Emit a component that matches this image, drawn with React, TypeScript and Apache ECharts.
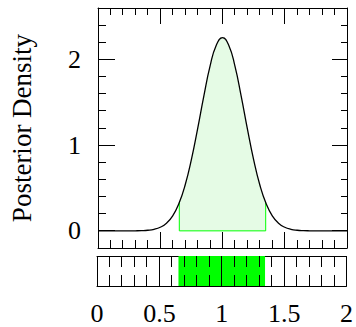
import React, { useEffect, useRef } from "react";
import * as echarts from "echarts";

// Posterior density curve
const xValues = [0, 0.25, 0.3, 0.35, 0.4, 0.45, 0.5, 0.55, 0.6, 0.65, 0.7, 0.75, 0.8, 0.85, 0.9, 0.95, 1.0, 1.05, 1.1, 1.15, 1.2, 1.25, 1.3, 1.35, 1.4, 1.45, 1.5, 1.55, 1.6, 1.65, 1.7, 1.75, 2.0];
const densityValues = [0, 0.0003, 0.0009, 0.0027, 0.0072, 0.018, 0.042, 0.089, 0.175, 0.319, 0.535, 0.831, 1.19, 1.573, 1.921, 2.166, 2.254, 2.166, 1.921, 1.573, 1.19, 0.831, 0.535, 0.319, 0.175, 0.089, 0.042, 0.018, 0.0072, 0.0027, 0.0009, 0.0003, 0];

// Credible interval
const intervalLo = 0.653;
const intervalHi = 1.347;
const intervalLoDensity = 0.33;
const intervalHiDensity = 0.33;

// Axis ranges and ticks
const xMin = 0;
const xMax = 2;
const xInterval = 0.5;
const yMin = -0.2;
const yMax = 2.6;
const xMajorTicks = [0, 0.5, 1, 1.5, 2];
const xMinorTicks = [0.1, 0.2, 0.3, 0.4, 0.6, 0.7, 0.8, 0.9, 1.1, 1.2, 1.3, 1.4, 1.6, 1.7, 1.8, 1.9];
const yMajorTicks = [0, 1, 2];
const yMinorTicks = [-0.2, 0.2, 0.4, 0.6, 0.8, 1.2, 1.4, 1.6, 1.8, 2.2, 2.4, 2.6];
const yLabel = "Posterior Density";

const FONT = "Liberation Serif";
const FS = 26;
const BLACK = "#000";
const FILL = "#e5fbe5";
const GREEN = "#00ff00";

// tick kinds: 0 x-minor, 1 x-major, 2 y-minor, 3 y-major
const X_MINOR = 0;
const X_MAJOR = 1;
const Y_MINOR = 2;
const Y_MAJOR = 3;

function vLine(x: number, y1: number, y2: number) {
  const x0 = Math.round(x - 0.5);
  return {
    type: "rect",
    shape: { x: x0, y: Math.min(y1, y2), width: 1, height: Math.abs(y2 - y1) },
    style: { fill: BLACK },
  };
}

function hLine(y: number, x1: number, x2: number) {
  const y0 = Math.round(y - 0.5);
  return {
    type: "rect",
    shape: { x: Math.min(x1, x2), y: y0, width: Math.abs(x2 - x1), height: 1 },
    style: { fill: BLACK },
  };
}

// lens: x [bottomMajor, bottomMinor, topMajor, topMinor], y [leftMajor, leftMinor, rightMajor, rightMinor]
function tickRenderer(yLo: number, yHi: number, xl: number[], yl: number[]) {
  return (params: any, api: any) => {
    const kind = api.value(2);
    if (kind === X_MINOR || kind === X_MAJOR) {
      const v = api.value(0);
      const major = kind === X_MAJOR;
      const pb = api.coord([v, yLo]);
      const pt = api.coord([v, yHi]);
      const lb = major ? xl[0] : xl[1];
      const lt = major ? xl[2] : xl[3];
      return {
        type: "group",
        children: [vLine(pb[0], pb[1], pb[1] - lb), vLine(pt[0], pt[1], pt[1] + lt)],
      };
    }
    const v = api.value(1);
    const major = kind === Y_MAJOR;
    const pl = api.coord([xMin, v]);
    const pr = api.coord([xMax, v]);
    const ll = major ? yl[0] : yl[1];
    const lr = major ? yl[2] : yl[3];
    return {
      type: "group",
      children: [hLine(pl[1], pl[0], pl[0] + ll), hLine(pr[1], pr[0], pr[0] - lr)],
    };
  };
}

function buildOption(): any {
  const curve = xValues.map((x, i) => [x, densityValues[i]]);
  const band: number[][] = [[intervalLo, intervalLoDensity]];
  xValues.forEach((x, i) => {
    if (x > intervalLo && x < intervalHi) band.push([x, densityValues[i]]);
  });
  band.push([intervalHi, intervalHiDensity]);
  const bandEdge = [
    [intervalLo, intervalLoDensity],
    [intervalLo, 0],
    [intervalHi, 0],
    [intervalHi, intervalHiDensity],
  ];
  const mainTicks = [
    ...xMajorTicks.map((v) => [v, 0, X_MAJOR]),
    ...xMinorTicks.map((v) => [v, 0, X_MINOR]),
    ...yMajorTicks.map((v) => [1, v, Y_MAJOR]),
    ...yMinorTicks.map((v) => [1, v, Y_MINOR]),
  ];
  const stripTicks = [
    ...xMajorTicks.map((v) => [v, 0.5, X_MAJOR]),
    ...xMinorTicks.map((v) => [v, 0.5, X_MINOR]),
  ];

  const lineStyle = { color: BLACK, width: 1 };
  const xAxis = (gridIndex: number, position: string, labels: boolean) => ({
    type: "value",
    gridIndex,
    position,
    min: xMin,
    max: xMax,
    interval: xInterval,
    axisLine: { show: true, onZero: false, lineStyle: { ...lineStyle } },
    axisTick: { show: false },
    splitLine: { show: false },
    axisLabel: labels
      ? { show: true, margin: 14, color: BLACK, fontFamily: FONT, fontSize: FS }
      : { show: false },
  });

  return {
    animation: false,
    grid: [
      { left: 97, top: 8, width: 250, height: 240 },
      { left: 97, top: 256, width: 250, height: 30 },
    ],
    xAxis: [
      xAxis(0, "bottom", false),
      xAxis(0, "top", false),
      xAxis(1, "bottom", true),
      xAxis(1, "top", false),
    ],
    yAxis: [
      {
        type: "value",
        gridIndex: 0,
        position: "left",
        min: yMin,
        max: yMax,
        axisLine: { show: true, onZero: false, lineStyle: { ...lineStyle } },
        axisTick: { show: false },
        splitLine: { show: false },
        axisLabel: {
          show: true,
          margin: 17,
          color: BLACK,
          fontFamily: FONT,
          fontSize: FS,
          customValues: yMajorTicks,
        },
        name: yLabel,
        nameLocation: "middle",
        nameGap: 63,
        nameTextStyle: { color: BLACK, fontFamily: FONT, fontSize: 27 },
      },
      {
        type: "value",
        gridIndex: 0,
        position: "right",
        min: yMin,
        max: yMax,
        axisLine: { show: true, onZero: false, lineStyle: { ...lineStyle } },
        axisTick: { show: false },
        splitLine: { show: false },
        axisLabel: { show: false },
      },
      { type: "value", gridIndex: 1, min: 0, max: 1, show: false, splitLine: { show: false } },
    ],
    series: [
      {
        type: "line",
        xAxisIndex: 0,
        yAxisIndex: 0,
        data: band,
        smooth: true,
        symbol: "none",
        lineStyle: { width: 0, color: FILL },
        areaStyle: { color: FILL, opacity: 1 },
        z: 2,
      },
      {
        type: "line",
        xAxisIndex: 0,
        yAxisIndex: 0,
        data: bandEdge,
        symbol: "none",
        lineStyle: { width: 1, color: GREEN },
        z: 3,
      },
      {
        type: "line",
        xAxisIndex: 0,
        yAxisIndex: 0,
        data: curve,
        smooth: true,
        symbol: "none",
        lineStyle: { width: 1.3, color: BLACK },
        z: 4,
      },
      {
        type: "custom",
        xAxisIndex: 0,
        yAxisIndex: 0,
        clip: false,
        data: mainTicks,
        encode: { x: 0, y: 1 },
        renderItem: tickRenderer(yMin, yMax, [16, 8, 16, 7], [17, 8, 15, 6]),
        z: 5,
      },
      {
        type: "custom",
        xAxisIndex: 2,
        yAxisIndex: 2,
        data: [[intervalLo, intervalHi]],
        encode: { x: [0, 1] },
        renderItem: (params: any, api: any) => {
          const p0 = api.coord([api.value(0), 1]);
          const p1 = api.coord([api.value(1), 0]);
          return {
            type: "rect",
            shape: { x: p0[0], y: p0[1], width: p1[0] - p0[0], height: p1[1] - p0[1] },
            style: { fill: GREEN },
          };
        },
        z: 2,
      },
      {
        type: "custom",
        xAxisIndex: 2,
        yAxisIndex: 2,
        clip: false,
        data: stripTicks,
        encode: { x: 0, y: 1 },
        renderItem: tickRenderer(0, 1, [15, 11, 15, 11], [0, 0, 0, 0]),
        z: 5,
      },
    ],
  };
}

export default function App() {
  const ref = useRef<HTMLDivElement>(null);

  useEffect(() => {
    document.body.style.margin = "0";
    if (!ref.current) return;
    const chart = echarts.init(ref.current, null, { renderer: "svg" });
    chart.setOption(buildOption());
    return () => chart.dispose();
  }, []);

  return (
    <div
      ref={ref}
      style={{ position: "fixed", left: 0, top: 0, width: 356, height: 327, background: "#fff" }}
    />
  );
}
